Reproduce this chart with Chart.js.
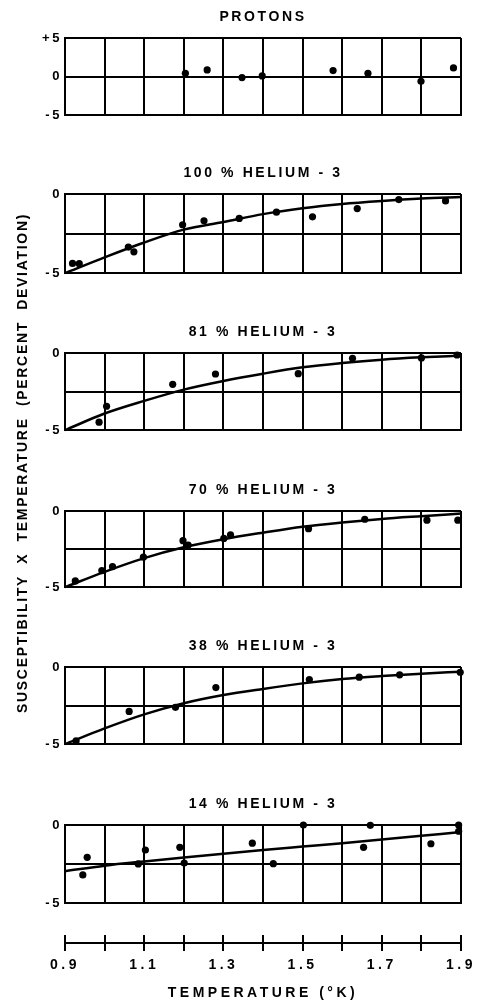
<!DOCTYPE html>
<html><head><meta charset="utf-8">
<script src="https://cdn.jsdelivr.net/npm/chart.js@4"></script>
<style>
html,body{margin:0;padding:0;background:#fff;}
body{width:477px;height:1001px;position:relative;overflow:hidden;}
canvas{position:absolute;left:0;}
</style></head><body>
<script>
// ---------- data ----------
const xTicks = [0.9, 1.0, 1.1, 1.2, 1.3, 1.4, 1.5, 1.6, 1.7, 1.8, 1.9];
const xTickLabels = ['0.9', '', '1.1', '', '1.3', '', '1.5', '', '1.7', '', '1.9'];
const xAxisTitle = 'TEMPERATURE (°K)';
const yAxisTitle = 'SUSCEPTIBILITY  X  TEMPERATURE  (PERCENT  DEVIATION)';
const panelTitles = ['PROTONS', '100 % HELIUM - 3', '81 % HELIUM - 3', '70 % HELIUM - 3', '38 % HELIUM - 3', '14 % HELIUM - 3'];
const protonYTicks = [-5, 0, 5];
const protonYLabels = ['-5', '0', '+5'];
const heliumYTicks = [-5, -2.5, 0];
const heliumYLabels = ['-5', '', '0'];

const protonsT   = [1.204, 1.259, 1.347, 1.398, 1.577, 1.665, 1.799, 1.881];
const protonsDev = [0.43, 0.86, -0.13, 0.09, 0.78, 0.43, -0.60, 1.12];

const he100T   = [0.919, 0.936, 1.060, 1.074, 1.197, 1.251, 1.340, 1.434, 1.525, 1.638, 1.743, 1.861];
const he100Dev = [-4.38, -4.40, -3.35, -3.65, -1.94, -1.69, -1.54, -1.15, -1.44, -0.92, -0.35, -0.44];
const he100Fit = [-5.0, -4.0, -3.06, -2.25, -1.77, -1.27, -0.90, -0.63, -0.44, -0.29, -0.19];

const he81T   = [0.986, 1.005, 1.172, 1.280, 1.489, 1.626, 1.800, 1.890];
const he81Dev = [-4.48, -3.45, -2.03, -1.36, -1.34, -0.34, -0.32, -0.13];
const he81Fit = [-5.0, -3.92, -3.10, -2.37, -1.81, -1.34, -0.93, -0.65, -0.43, -0.28, -0.17];

const he70T   = [0.926, 0.993, 1.020, 1.098, 1.198, 1.211, 1.301, 1.318, 1.515, 1.657, 1.814, 1.892];
const he70Dev = [-4.59, -3.91, -3.65, -3.03, -1.95, -2.23, -1.80, -1.57, -1.16, -0.54, -0.60, -0.60];
const he70Fit = [-5.0, -3.99, -3.09, -2.38, -1.85, -1.42, -1.03, -0.75, -0.52, -0.34, -0.17];

const he38T   = [0.928, 1.062, 1.179, 1.281, 1.517, 1.643, 1.745, 1.898];
const he38Dev = [-4.79, -2.88, -2.61, -1.33, -0.81, -0.66, -0.51, -0.34];
const he38Fit = [-5.0, -3.98, -3.07, -2.35, -1.82, -1.42, -1.06, -0.78, -0.59, -0.44, -0.30];

const he14T   = [0.945, 0.956, 1.085, 1.103, 1.190, 1.201, 1.373, 1.426, 1.502, 1.654, 1.671, 1.824, 1.894, 1.894];
const he14Dev = [-3.19, -2.07, -2.49, -1.60, -1.43, -2.43, -1.16, -2.47, 0.0, -1.43, -0.02, -1.20, 0.0, -0.40];
const he14Fit = [-2.95, -2.60, -2.33, -2.08, -1.84, -1.60, -1.38, -1.16, -0.93, -0.69, -0.45];

// ---------- layout (positions only) ----------
const panelTops = [38, 194, 353, 511, 667, 825];
const panelHeights = [78, 80, 78, 77, 78, 79];
const FONT = "'Liberation Sans', Arial, sans-serif";

Chart.defaults.font.family = FONT;
Chart.defaults.color = '#000';

Chart.register({
  id: 'spacing',
  defaults: { px: 2 },
  beforeUpdate(chart, args, opts) { chart.ctx.letterSpacing = opts.px + 'px'; },
  beforeDraw(chart, args, opts) { chart.ctx.letterSpacing = opts.px + 'px'; }
});

function addCanvas(w, h, top) {
  const c = document.createElement('canvas');
  c.width = w; c.height = h;
  c.style.width = w + 'px'; c.style.height = h + 'px';
  c.style.top = top + 'px';
  document.body.appendChild(c);
  return c;
}

function makePanel(i, tArr, dArr, fitArr, yTicks, yLabels) {
  const TITLE_H = 33, PAD_B = 10;
  const c = addCanvas(477, TITLE_H + panelHeights[i] + PAD_B, panelTops[i] - TITLE_H);
  const datasets = [{
    label: 'measured',
    data: tArr.map((t, k) => ({ x: t, y: dArr[k] })),
    showLine: false,
    pointRadius: 3.6,
    pointBackgroundColor: '#000',
    pointBorderColor: '#000',
    pointBorderWidth: 0,
    borderColor: '#000',
    clip: false
  }];
  if (fitArr) {
    datasets.push({
      label: 'fit',
      data: xTicks.map((t, k) => ({ x: t, y: fitArr[k] })),
      showLine: true,
      pointRadius: 0,
      borderColor: '#000',
      borderWidth: 2.5,
      cubicInterpolationMode: 'monotone',
      clip: false
    });
  }
  new Chart(c, {
    type: 'scatter',
    data: { datasets },
    options: {
      responsive: false, animation: false, devicePixelRatio: 1,
      layout: { padding: { left: 0, right: 16, top: 0, bottom: PAD_B } },
      plugins: {
        legend: { display: false }, tooltip: { enabled: false },
        spacing: { px: 2.6 },
        title: {
          display: true, text: panelTitles[i], color: '#000', fullSize: false,
          font: { family: FONT, size: 14, weight: 'bold', lineHeight: '16px' },
          padding: { top: 4, bottom: 13 }
        }
      },
      scales: {
        x: {
          type: 'linear', min: xTicks[0], max: xTicks[xTicks.length - 1],
          afterBuildTicks: s => { s.ticks = xTicks.map(v => ({ value: v })); },
          ticks: { display: false },
          grid: { color: '#000', lineWidth: 2, drawTicks: false },
          border: { display: true, color: '#000', width: 2 }
        },
        y: {
          type: 'linear', min: yTicks[0], max: yTicks[yTicks.length - 1],
          afterBuildTicks: s => { s.ticks = yTicks.map(v => ({ value: v })); },
          afterFit: s => { s.width = 65; },
          ticks: {
            color: '#000', padding: 3,
            font: { family: FONT, size: 13, weight: 'bold' },
            callback: (v, idx) => yLabels[idx]
          },
          grid: { color: '#000', lineWidth: 2, drawTicks: false },
          border: { display: true, color: '#000', width: 2 }
        }
      }
    }
  });
}

makePanel(0, protonsT, protonsDev, null, protonYTicks, protonYLabels);
makePanel(1, he100T, he100Dev, he100Fit, heliumYTicks, heliumYLabels);
makePanel(2, he81T, he81Dev, he81Fit, heliumYTicks, heliumYLabels);
makePanel(3, he70T, he70Dev, he70Fit, heliumYTicks, heliumYLabels);
makePanel(4, he38T, he38Dev, he38Fit, heliumYTicks, heliumYLabels);
makePanel(5, he14T, he14Dev, he14Fit, heliumYTicks, heliumYLabels);

// ---------- shared temperature axis ----------
(function () {
  const c = addCanvas(477, 81, 920);
  new Chart(c, {
    type: 'scatter',
    data: { datasets: [] },
    options: {
      responsive: false, animation: false, devicePixelRatio: 1,
      layout: { padding: { left: 65, right: 16, top: 15, bottom: 0 } },
      plugins: { legend: { display: false }, tooltip: { enabled: false }, spacing: { px: 3.5 } },
      scales: {
        y: { display: false, min: 0, max: 1 },
        x: {
          type: 'linear', position: 'bottom', min: xTicks[0], max: xTicks[xTicks.length - 1],
          afterBuildTicks: s => { s.ticks = xTicks.map(v => ({ value: v })); },
          afterFit: s => { s.height = 58; s.paddingLeft = 0; s.paddingRight = 0; },
          ticks: {
            color: '#000', padding: 6, maxRotation: 0, autoSkip: false,
            font: { family: FONT, size: 14, weight: 'bold', lineHeight: '16px' },
            callback: (v, idx) => xTickLabels[idx]
          },
          grid: { color: '#000', lineWidth: 2, drawOnChartArea: true, drawTicks: true, tickLength: 8 },
          border: { display: true, color: '#000', width: 2 },
          title: {
            display: true, text: xAxisTitle, color: '#000',
            font: { family: FONT, size: 14, weight: 'bold', lineHeight: '16px' },
            padding: { top: 0, bottom: 0 }
          }
        }
      }
    }
  });
})();

// ---------- shared deviation axis title ----------
(function () {
  const c = addCanvas(45, 600, 163);
  new Chart(c, {
    type: 'scatter',
    data: { datasets: [] },
    options: {
      responsive: false, animation: false, devicePixelRatio: 1,
      layout: { padding: 0 },
      plugins: { legend: { display: false }, tooltip: { enabled: false }, spacing: { px: 1.7 } },
      scales: {
        x: { display: false },
        y: {
          display: true,
          ticks: { display: false },
          grid: { display: false, drawTicks: false },
          border: { display: false },
          title: {
            display: true, text: yAxisTitle, color: '#000',
            font: { family: FONT, size: 14, weight: 'bold', lineHeight: '16px' },
            padding: { top: 15, bottom: 0 }
          }
        }
      }
    }
  });
})();
</script>
</body></html>
